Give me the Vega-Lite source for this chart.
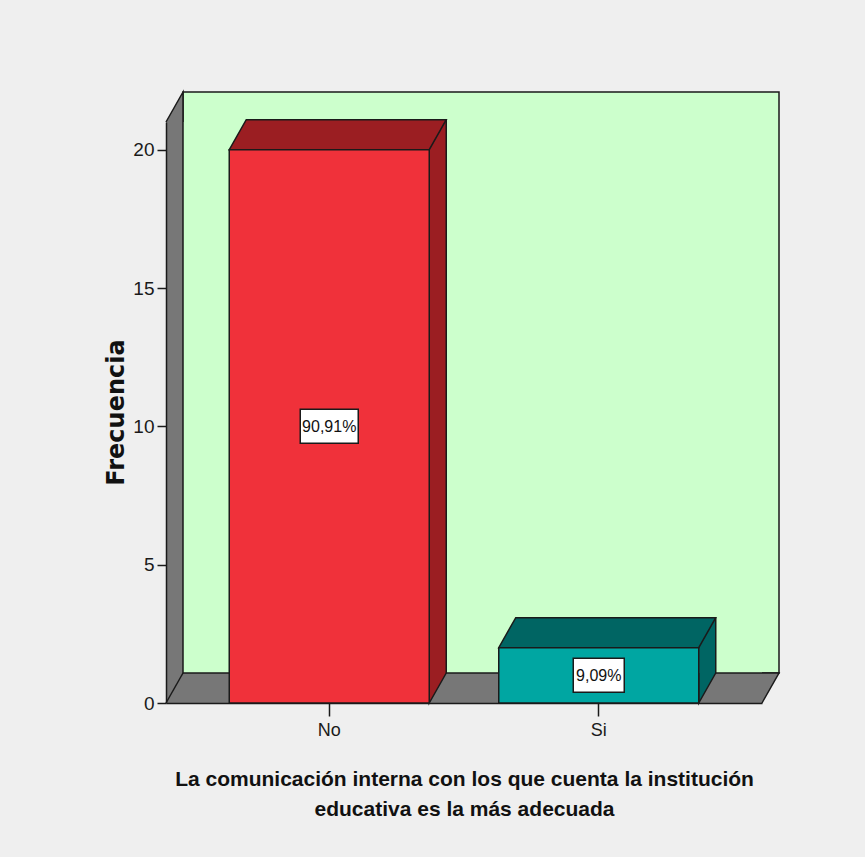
{
  "$schema": "https://vega.github.io/schema/vega-lite/v6.json",
  "width": 596,
  "height": 581,
  "autosize": {"type": "none"},
  "padding": {"left": 166, "top": 122, "right": 103, "bottom": 154},
  "background": "#efefef",
  "config": {
    "locale": {"number": {"decimal": ",", "thousands": ".", "grouping": [3], "currency": ["", " €"]}},
    "view": {"fill": "#777777", "stroke": null},
    "axis": {"zindex": 1, "grid": false, "domainColor": "#1a1a1a", "domainWidth": 1.5, "tickColor": "#1a1a1a", "tickWidth": 1.5, "labelColor": "#1a1a1a", "titleColor": "#111111"}
  },
  "layer": [
    {
      "description": "back wall of the chart box",
      "data": {"values": [{}]},
      "mark": {"type": "rect", "fill": "#ccffcc", "stroke": "#1a1a1a", "strokeWidth": 1.5, "xOffset": 17, "x2Offset": 17, "yOffset": -30, "y2Offset": -30},
      "encoding": {
        "x": {"value": 0},
        "x2": {"value": "width"},
        "y": {"datum": 0, "type": "quantitative"},
        "y2": {"datum": 21}
      }
    },
    {
      "description": "upper corner of the left wall",
      "data": {"values": [{}]},
      "mark": {"type": "point", "shape": "M0,0L17,-30L17,0", "size": 4, "filled": true, "fill": "#777777", "stroke": "#1a1a1a", "strokeWidth": 1.5, "opacity": 1},
      "encoding": {
        "x": {"value": 0},
        "y": {"datum": 21, "type": "quantitative"}
      }
    },
    {
      "description": "right corner of the floor",
      "data": {"values": [{}]},
      "mark": {"type": "point", "shape": "M0,-30L17,-30L0,0", "size": 4, "filled": true, "fill": "#777777", "stroke": "#1a1a1a", "strokeWidth": 1.5, "opacity": 1},
      "encoding": {
        "x": {"value": "width"},
        "y": {"datum": 0, "type": "quantitative"}
      }
    },
    {
      "description": "edge where left wall meets the floor",
      "data": {"values": [{}]},
      "mark": {"type": "rule", "stroke": "#1a1a1a", "strokeWidth": 1.5, "x2Offset": 17, "y2Offset": -30},
      "encoding": {
        "x": {"value": 0},
        "x2": {"value": 0},
        "y": {"datum": 0, "type": "quantitative"},
        "y2": {"datum": 0}
      }
    },
    {
      "data": {
        "values": [
          {"respuesta": "No", "frecuencia": 20},
          {"respuesta": "Si", "frecuencia": 2}
        ]
      },
      "transform": [
        {"joinaggregate": [{"op": "sum", "field": "frecuencia", "as": "total"}]},
        {"calculate": "datum.frecuencia / datum.total", "as": "porcentaje"},
        {"calculate": "datum.frecuencia / 2", "as": "centro"}
      ],
      "encoding": {
        "x": {
          "field": "respuesta",
          "type": "nominal",
          "scale": {"domain": ["No", "Si"], "paddingInner": 0.2579, "paddingOuter": 0.2347},
          "axis": {
            "labelAngle": 0,
            "labelFont": "Liberation Sans",
            "labelFontSize": 18,
            "labelPadding": 5,
            "tickSize": 13,
            "titleFont": "Liberation Sans",
            "titleFontSize": 21,
            "titleFontWeight": "bold",
            "titleLineHeight": 30,
            "titleBaseline": "alphabetic",
            "titleY": 82
          },
          "title": ["La comunicación interna con los que cuenta la institución", "educativa es la más adecuada"]
        }
      },
      "layer": [
        {
          "description": "rear face of each bar, seen as its side",
          "mark": {"type": "bar", "xOffset": 17, "yOffset": -30, "y2Offset": -30, "strokeWidth": 0},
          "encoding": {
            "y": {
              "field": "frecuencia",
              "type": "quantitative",
              "scale": {"domain": [0, 21], "nice": false},
              "axis": {
                "values": [0, 5, 10, 15, 20],
                "tickSize": 9,
                "labelFont": "Liberation Sans",
                "labelFontSize": 19,
                "labelPadding": 3,
                "titleFont": "DejaVu Sans",
                "titleFontSize": 24,
                "titleFontWeight": "bold",
                "titleAngle": -90,
                "titleAlign": "center",
                "titleBaseline": "alphabetic",
                "titleX": -43,
                "titleY": 290
              },
              "title": "Frecuencia"
            },
            "color": {"field": "respuesta", "type": "nominal", "scale": {"domain": ["No", "Si"], "range": ["#9b1e22", "#006563"]}, "legend": null}
          }
        },
        {
          "description": "lower corner of each bar side",
          "mark": {"type": "point", "shape": "M100,-30L100,0L117,-30", "size": 4, "filled": true, "stroke": "#1a1a1a", "strokeWidth": 1.5, "opacity": 1},
          "encoding": {
            "y": {"datum": 0, "type": "quantitative"},
            "color": {"field": "respuesta", "type": "nominal", "legend": null}
          }
        },
        {
          "description": "top face of each bar",
          "mark": {"type": "point", "shape": "M-100,0L100,0L117,-30L-83,-30Z", "size": 4, "filled": true, "stroke": "#1a1a1a", "strokeWidth": 1.5, "opacity": 1},
          "encoding": {
            "y": {"field": "frecuencia", "type": "quantitative"},
            "color": {"field": "respuesta", "type": "nominal", "legend": null}
          }
        },
        {
          "description": "outer vertical edge of each bar side",
          "mark": {"type": "rule", "stroke": "#1a1a1a", "strokeWidth": 1.5, "xOffset": 117, "yOffset": -30, "y2Offset": -30},
          "encoding": {
            "y": {"field": "frecuencia", "type": "quantitative"},
            "y2": {"datum": 0}
          }
        },
        {
          "description": "front face of each bar",
          "mark": {"type": "bar", "stroke": "#1a1a1a", "strokeWidth": 1.5},
          "encoding": {
            "y": {"field": "frecuencia", "type": "quantitative"},
            "fill": {"field": "respuesta", "type": "nominal", "scale": {"domain": ["No", "Si"], "range": ["#f0313a", "#00a6a2"]}, "legend": null}
          }
        },
        {
          "description": "label boxes",
          "mark": {"type": "point", "size": 4, "filled": true, "fill": "#ffffff", "stroke": "#1a1a1a", "strokeWidth": 1.5, "opacity": 1},
          "encoding": {
            "y": {"field": "centro", "type": "quantitative"},
            "shape": {"field": "respuesta", "type": "nominal", "scale": {"domain": ["No", "Si"], "range": ["M-29,-17H29V17H-29Z", "M-25.5,-17H25.5V17H-25.5Z"]}, "legend": null}
          }
        },
        {
          "description": "percentage labels",
          "mark": {"type": "text", "font": "Liberation Sans", "fontSize": 16, "color": "#111111", "align": "center", "baseline": "middle", "dy": 1},
          "encoding": {
            "y": {"field": "centro", "type": "quantitative"},
            "text": {"field": "porcentaje", "type": "quantitative", "format": ".2%"}
          }
        }
      ]
    }
  ]
}
